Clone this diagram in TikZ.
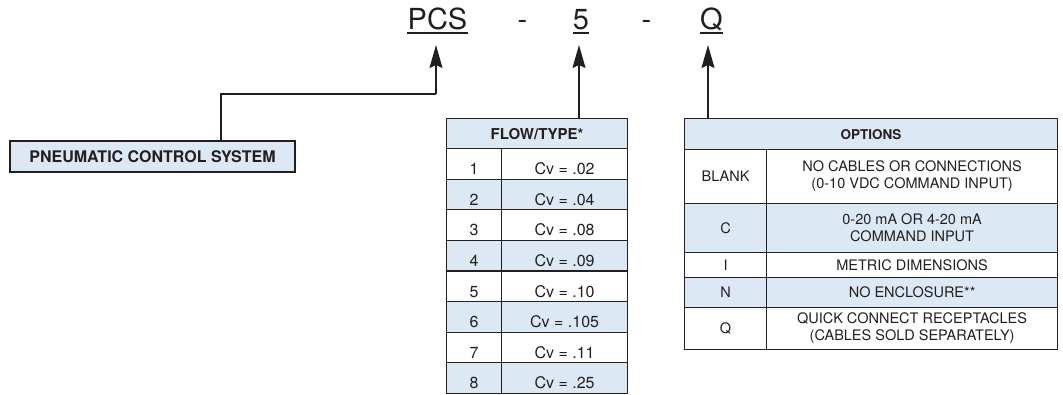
\documentclass[tikz,border=0pt]{standalone}
\usepackage{fontspec}
\setmainfont{TeX Gyre Heros}
\usetikzlibrary{arrows.meta}
\definecolor{lb}{HTML}{DCE8F4}
\definecolor{ink}{HTML}{231F20}
\begin{document}
\begin{tikzpicture}[x=1pt,y=-1pt,
  every node/.style={text=ink},
  title/.style={inner sep=0pt, anchor=base, font=\fontsize{29}{34}\selectfont},
  uline/.style={draw=ink, line width=1.3pt},
  arr/.style={draw=ink, line width=1.3pt, -{Stealth[length=23pt,width=13pt,inset=3pt]}},
  link/.style={draw=ink, line width=1.3pt},
  cell/.style={draw=ink, line width=1.2pt, inner sep=0pt, anchor=north west, align=center},
  flowtxt/.style={font=\fontsize{16}{19}\selectfont, text height=21.5pt, text depth=0pt},
  opttxt/.style={font=\fontsize{14.5}{17}\selectfont},
  headtxt/.style={font=\bfseries\fontsize{15}{18}\selectfont},
]
\useasboundingbox (0,0) rectangle (1063,394);

% title
\node[title] (tpcs) at (437.5,29) {PCS};
\node[title] (tdasha) at (522.5,29) {-};
\node[title] (tfive) at (581,29) {5};
\node[title] (tdashb) at (646.5,29) {-};
\node[title] (tq) at (711.5,29) {Q};
\foreach \n in {tpcs,tfive,tq}{
  \draw[uline] ([yshift=-4pt]\n.base west) -- ([yshift=-4pt]\n.base east);
}
\coordinate (pcstip) at (436,45);
\coordinate (fivetip) at (579,45);
\coordinate (qtip) at (708,45);

% pneumatic box
\node[cell, anchor=center, fill=lb, minimum width=285, minimum height=31,
  font=\bfseries\fontsize{16}{19}\selectfont] (pcsbox) at (152.5,156.5) {PNEUMATIC CONTROL SYSTEM};

% flow table
\node[cell, fill=lb, minimum width=181, minimum height=30, headtxt] (flowhead) at (446,118) {FLOW/TYPE*};
\foreach \n/\v/\cl [count=\i] in {1/.02/white,2/.04/lb,3/.08/white,4/.09/lb,5/.10/white,6/.105/lb,7/.11/white,8/.25/lb}{
  \pgfmathsetmacro\tp{148+(\i-1)*30.6}
  \node[cell, fill=\cl, minimum width=55, minimum height=30.6, flowtxt] (fn\i) at (446,\tp) {\n};
  \node[cell, fill=\cl, minimum width=126, minimum height=30.6, flowtxt] (fv\i) at (501,\tp) {Cv = \v};
}

% options table
\node[cell, fill=lb, minimum width=373, minimum height=31, font=\bfseries\fontsize{13.5}{16}\selectfont] (opthead) at (684,118) {OPTIONS};
\foreach \tp/\h/\cl/\kk/\tt [count=\i] in {
  149/54/white/BLANK/{NO CABLES OR CONNECTIONS\\(0-10 VDC COMMAND INPUT)},
  203/49/lb/C/{0-20 mA OR 4-20 mA\\COMMAND INPUT},
  252/25/white/I/{METRIC DIMENSIONS},
  277/30/lb/N/{NO ENCLOSURE**},
  307/42/white/Q/{QUICK CONNECT RECEPTACLES\\(CABLES SOLD SEPARATELY)}}{
  \node[cell, fill=\cl, minimum width=82, minimum height=\h, opttxt] (ok\i) at (684,\tp) {\kk};
  \node[cell, fill=\cl, minimum width=291, minimum height=\h, opttxt] (ot\i) at (766,\tp) {\tt};
}

% connectors
\coordinate (j1) at (221,94);
\draw[link] (j1 |- pcsbox.north) -- (j1) -- (pcstip |- j1);
\draw[arr] (pcstip |- j1) -- (pcstip);
\draw[arr] (fivetip |- flowhead.north) -- (fivetip);
\draw[arr] (qtip |- opthead.north) -- (qtip);
\end{tikzpicture}
\end{document}
